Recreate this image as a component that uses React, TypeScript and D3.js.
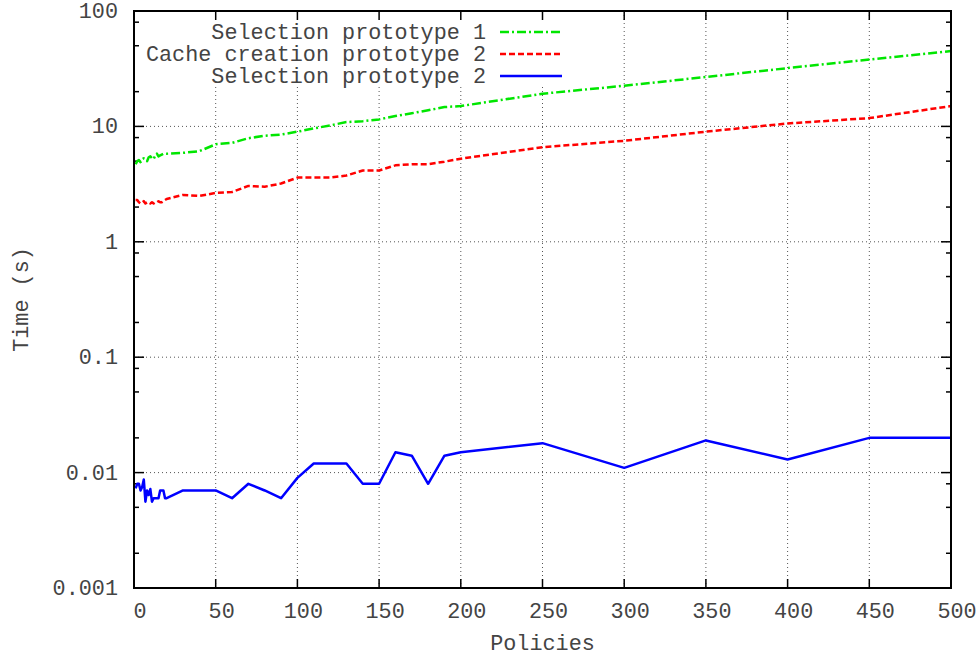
import * as d3 from "d3";

const policies = [
  1, 2, 3, 4, 5, 6, 7, 8, 9, 10, 11, 12, 13, 14, 15, 16, 17, 18, 19, 20,
  30, 40, 50, 60, 70, 80, 90, 100, 110, 120, 130, 140, 150, 160, 170, 180, 190, 200,
  250, 300, 350, 400, 450, 500,
];

const selectionProto1 = [
  4.7, 5.0, 5.1, 4.9, 5.2, 5.3, 5.1, 5.0, 5.4, 5.5, 5.3, 5.2, 5.6, 5.8, 5.5, 5.6, 5.7, 5.8, 5.8, 5.8,
  5.9, 6.1, 7.0, 7.2, 7.9, 8.3, 8.5, 9.0, 9.6, 10.2, 10.9, 11.1, 11.5, 12.3, 13.0, 13.8, 14.7, 15.0,
  19.2, 22.5, 26.8, 32, 38, 45,
];

const cacheProto2 = [
  2.3, 2.3, 2.2, 2.15, 2.2, 2.25, 2.15, 2.2, 2.2, 2.15, 2.2, 2.15, 2.2, 2.2, 2.25, 2.2, 2.2, 2.25, 2.3, 2.35,
  2.55, 2.5, 2.65, 2.7, 3.05, 3.0, 3.2, 3.6, 3.6, 3.6, 3.75, 4.15, 4.15, 4.6, 4.7, 4.7, 4.95, 5.25,
  6.6, 7.5, 9.0, 10.6, 11.8, 15,
];

const selectionProto2 = [
  0.0073, 0.008, 0.008, 0.007, 0.0075, 0.0087, 0.0056, 0.007, 0.0064, 0.0072, 0.0056, 0.006, 0.006, 0.006,
  0.006, 0.007, 0.007, 0.007, 0.006, 0.006,
  0.007, 0.007, 0.007, 0.006, 0.008, 0.007, 0.006, 0.009, 0.012, 0.012, 0.012, 0.008, 0.008, 0.015, 0.014,
  0.008, 0.014, 0.015,
  0.018, 0.011, 0.019, 0.013, 0.02, 0.02,
];

const xTicks = [0, 50, 100, 150, 200, 250, 300, 350, 400, 450, 500];
const yTicks = [0.001, 0.01, 0.1, 1, 10, 100];
const yTickLabels = ["0.001", "0.01", "0.1", "1", "10", "100"];
const minorFactors = [2, 5, 8];

const series = [
  { name: "Selection prototype 1", values: selectionProto1, color: "#00e600", dash: "9,3,2,3" },
  { name: "Cache creation prototype 2", values: cacheProto2, color: "#ff0000", dash: "6,3" },
  { name: "Selection prototype 2", values: selectionProto2, color: "#0000ff", dash: "none" },
];

const FONT = "'Liberation Mono', 'Courier New', monospace";
const TEXT_FILL = "#444";
const FS = 21.8;

export default function App() {
  const width = 980;
  const height = 656;
  const margin = { top: 11, right: 29, bottom: 68, left: 134 };
  const innerW = width - margin.left - margin.right;
  const innerH = height - margin.top - margin.bottom;

  const x = d3.scaleLinear().domain([0, 500]).range([0, innerW]);
  const y = d3.scaleLog().domain([0.001, 100]).range([innerH, 0]);

  const minorTicks: number[] = [];
  yTicks.slice(0, -1).forEach((t) => minorFactors.forEach((f) => minorTicks.push(t * f)));

  const makeLine = (vals: number[]) =>
    d3
      .line<number>()
      .x((_, i) => x(policies[i]))
      .y((d) => y(d))(vals) ?? "";

  return (
    <svg width={width} height={height} style={{ position: "absolute", left: 0, top: 0, background: "#fff" }}>
      <g transform={`translate(${margin.left},${margin.top})`}>
        {/* grid */}
        {xTicks.slice(1, -1).map((t) => (
          <line key={`gx${t}`} x1={x(t)} x2={x(t)} y1={0} y2={innerH} stroke="#555" strokeWidth={1} strokeDasharray="1,3" />
        ))}
        {yTicks.slice(1, -1).map((t) => (
          <line key={`gy${t}`} x1={0} x2={innerW} y1={y(t)} y2={y(t)} stroke="#555" strokeWidth={1} strokeDasharray="1,3" />
        ))}

        {/* key background */}
        <rect x={8} y={3} width={440} height={72} fill="#fff" />

        {/* ticks */}
        {xTicks.map((t) => (
          <g key={`tx${t}`}>
            <line x1={x(t)} x2={x(t)} y1={innerH} y2={innerH - 9} stroke="#000" strokeWidth={1.5} />
            <line x1={x(t)} x2={x(t)} y1={0} y2={9} stroke="#000" strokeWidth={1.5} />
            <text x={x(t) + 6} y={innerH + 30} textAnchor="middle" fontFamily={FONT} fontSize={FS} fill={TEXT_FILL}>
              {t}
            </text>
          </g>
        ))}
        {yTicks.map((t, i) => (
          <g key={`ty${t}`}>
            <line x1={0} x2={10} y1={y(t)} y2={y(t)} stroke="#000" strokeWidth={1.5} />
            <line x1={innerW} x2={innerW - 10} y1={y(t)} y2={y(t)} stroke="#000" strokeWidth={1.5} />
            <text x={-16} y={y(t) + 7} textAnchor="end" fontFamily={FONT} fontSize={FS} fill={TEXT_FILL}>
              {yTickLabels[i]}
            </text>
          </g>
        ))}
        {minorTicks.map((t) => (
          <g key={`my${t}`}>
            <line x1={0} x2={5} y1={y(t)} y2={y(t)} stroke="#000" strokeWidth={1.5} />
            <line x1={innerW} x2={innerW - 5} y1={y(t)} y2={y(t)} stroke="#000" strokeWidth={1.5} />
          </g>
        ))}

        {/* series */}
        {series.map((s) => (
          <path
            key={s.name}
            d={makeLine(s.values)}
            fill="none"
            stroke={s.color}
            strokeWidth={2.5}
            strokeDasharray={s.dash}
            strokeLinejoin="round"
          />
        ))}

        {/* key */}
        {series.map((s, i) => (
          <g key={`k${s.name}`} transform={`translate(0,${21 + i * 22})`}>
            <text x={352} y={7} textAnchor="end" fontFamily={FONT} fontSize={FS} fill={TEXT_FILL}>
              {s.name}
            </text>
            <line x1={366} x2={428} y1={0} y2={0} stroke={s.color} strokeWidth={2.5} strokeDasharray={s.dash} />
          </g>
        ))}

        {/* border */}
        <rect x={0} y={0} width={innerW} height={innerH} fill="none" stroke="#000" strokeWidth={2} />

        <text x={innerW / 2} y={innerH + 62} textAnchor="middle" fontFamily={FONT} fontSize={FS} fill={TEXT_FILL}>
          Policies
        </text>
      </g>
      <text
        transform={`translate(28,${margin.top + innerH / 2}) rotate(-90)`}
        textAnchor="middle"
        fontFamily={FONT}
        fontSize={FS}
        fill={TEXT_FILL}
      >
        Time (s)
      </text>
    </svg>
  );
}
